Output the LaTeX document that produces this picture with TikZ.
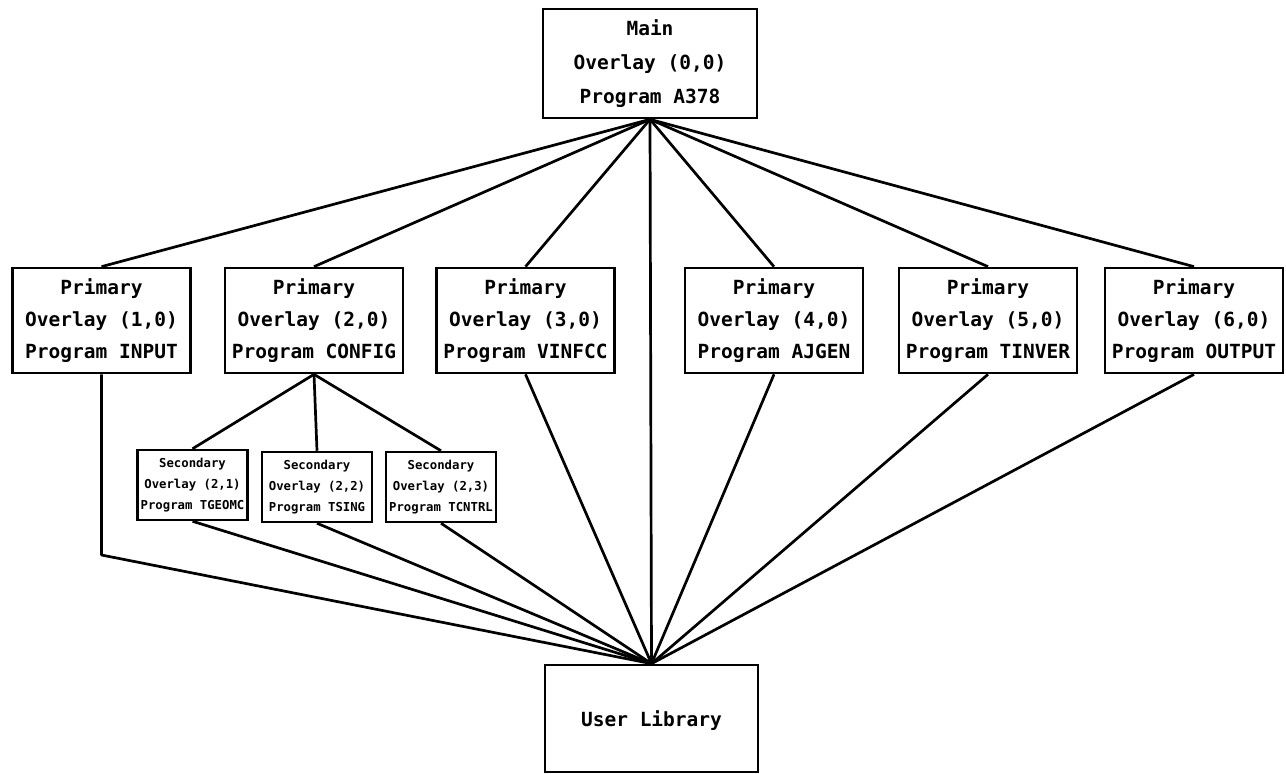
\documentclass[tikz,border=0pt]{standalone}
\usepackage{fontspec}
\setmonofont{DejaVu Sans Mono}
\usepackage{tikz}

\tikzset{
  ovl/.style={draw, line width=2.7pt, align=center, inner sep=0pt,
    font=\ttfamily\bfseries\fontsize{19.5}{32}\selectfont},
  primary/.style={ovl, minimum width=178pt, minimum height=105pt},
  secondary/.style={draw, line width=2.5pt, align=center, inner sep=0pt,
    minimum width=110pt, minimum height=70pt,
    font=\ttfamily\bfseries\fontsize{12.3}{21}\selectfont},
  link/.style={line width=2.7pt, line join=round}
}

\begin{document}
\begin{tikzpicture}[x=1pt, y=-1pt]
  \useasboundingbox (0,0) rectangle (1286,774);

\node[ovl, minimum width=214pt, minimum height=109pt,
  font=\ttfamily\bfseries\fontsize{19.5}{34}\selectfont]
  (main) at (650,63.5) {Main\\Overlay (0,0)\\Program A378};

\node[primary] (p1) at (101.5,320.5) {Primary\\Overlay (1,0)\\Program INPUT};
\node[primary] (p2) at (314,320.5) {Primary\\Overlay (2,0)\\Program CONFIG};
\node[primary] (p3) at (525.5,320.5) {Primary\\Overlay (3,0)\\Program VINFCC};
\node[primary] (p4) at (774,320.5) {Primary\\Overlay (4,0)\\Program AJGEN};
\node[primary] (p5) at (988,320.5) {Primary\\Overlay (5,0)\\Program TINVER};
\node[primary] (p6) at (1194,320.5) {Primary\\Overlay (6,0)\\Program OUTPUT};

\node[secondary] (s1) at (192.5,485) {Secondary\\Overlay (2,1)\\Program TGEOMC};
\node[secondary] (s2) at (317,487) {Secondary\\Overlay (2,2)\\Program TSING};
\node[secondary] (s3) at (441,487) {Secondary\\Overlay (2,3)\\Program TCNTRL};

\node[ovl, minimum width=213pt, minimum height=107pt, text depth=-8pt] (lib) at (651.5,718.5) {User Library};

% main overlay down to the primaries and the library
\foreach \p in {p1,p2,p3,p4,p5,p6,lib}
  \draw[link] (main.south) -- (\p.north);

% secondaries hang off CONFIG
\foreach \s in {s1,s2,s3}
  \draw[link] (p2.south) -- (\s.north);

% everything else calls into the user library
\coordinate (bend) at (101.5,555);
\draw[link] (p1.south) -- (bend) -- (lib.north);
\foreach \q in {s1,s2,s3,p3,p4,p5,p6}
  \draw[link] (\q.south) -- (lib.north);
\end{tikzpicture}
\end{document}
